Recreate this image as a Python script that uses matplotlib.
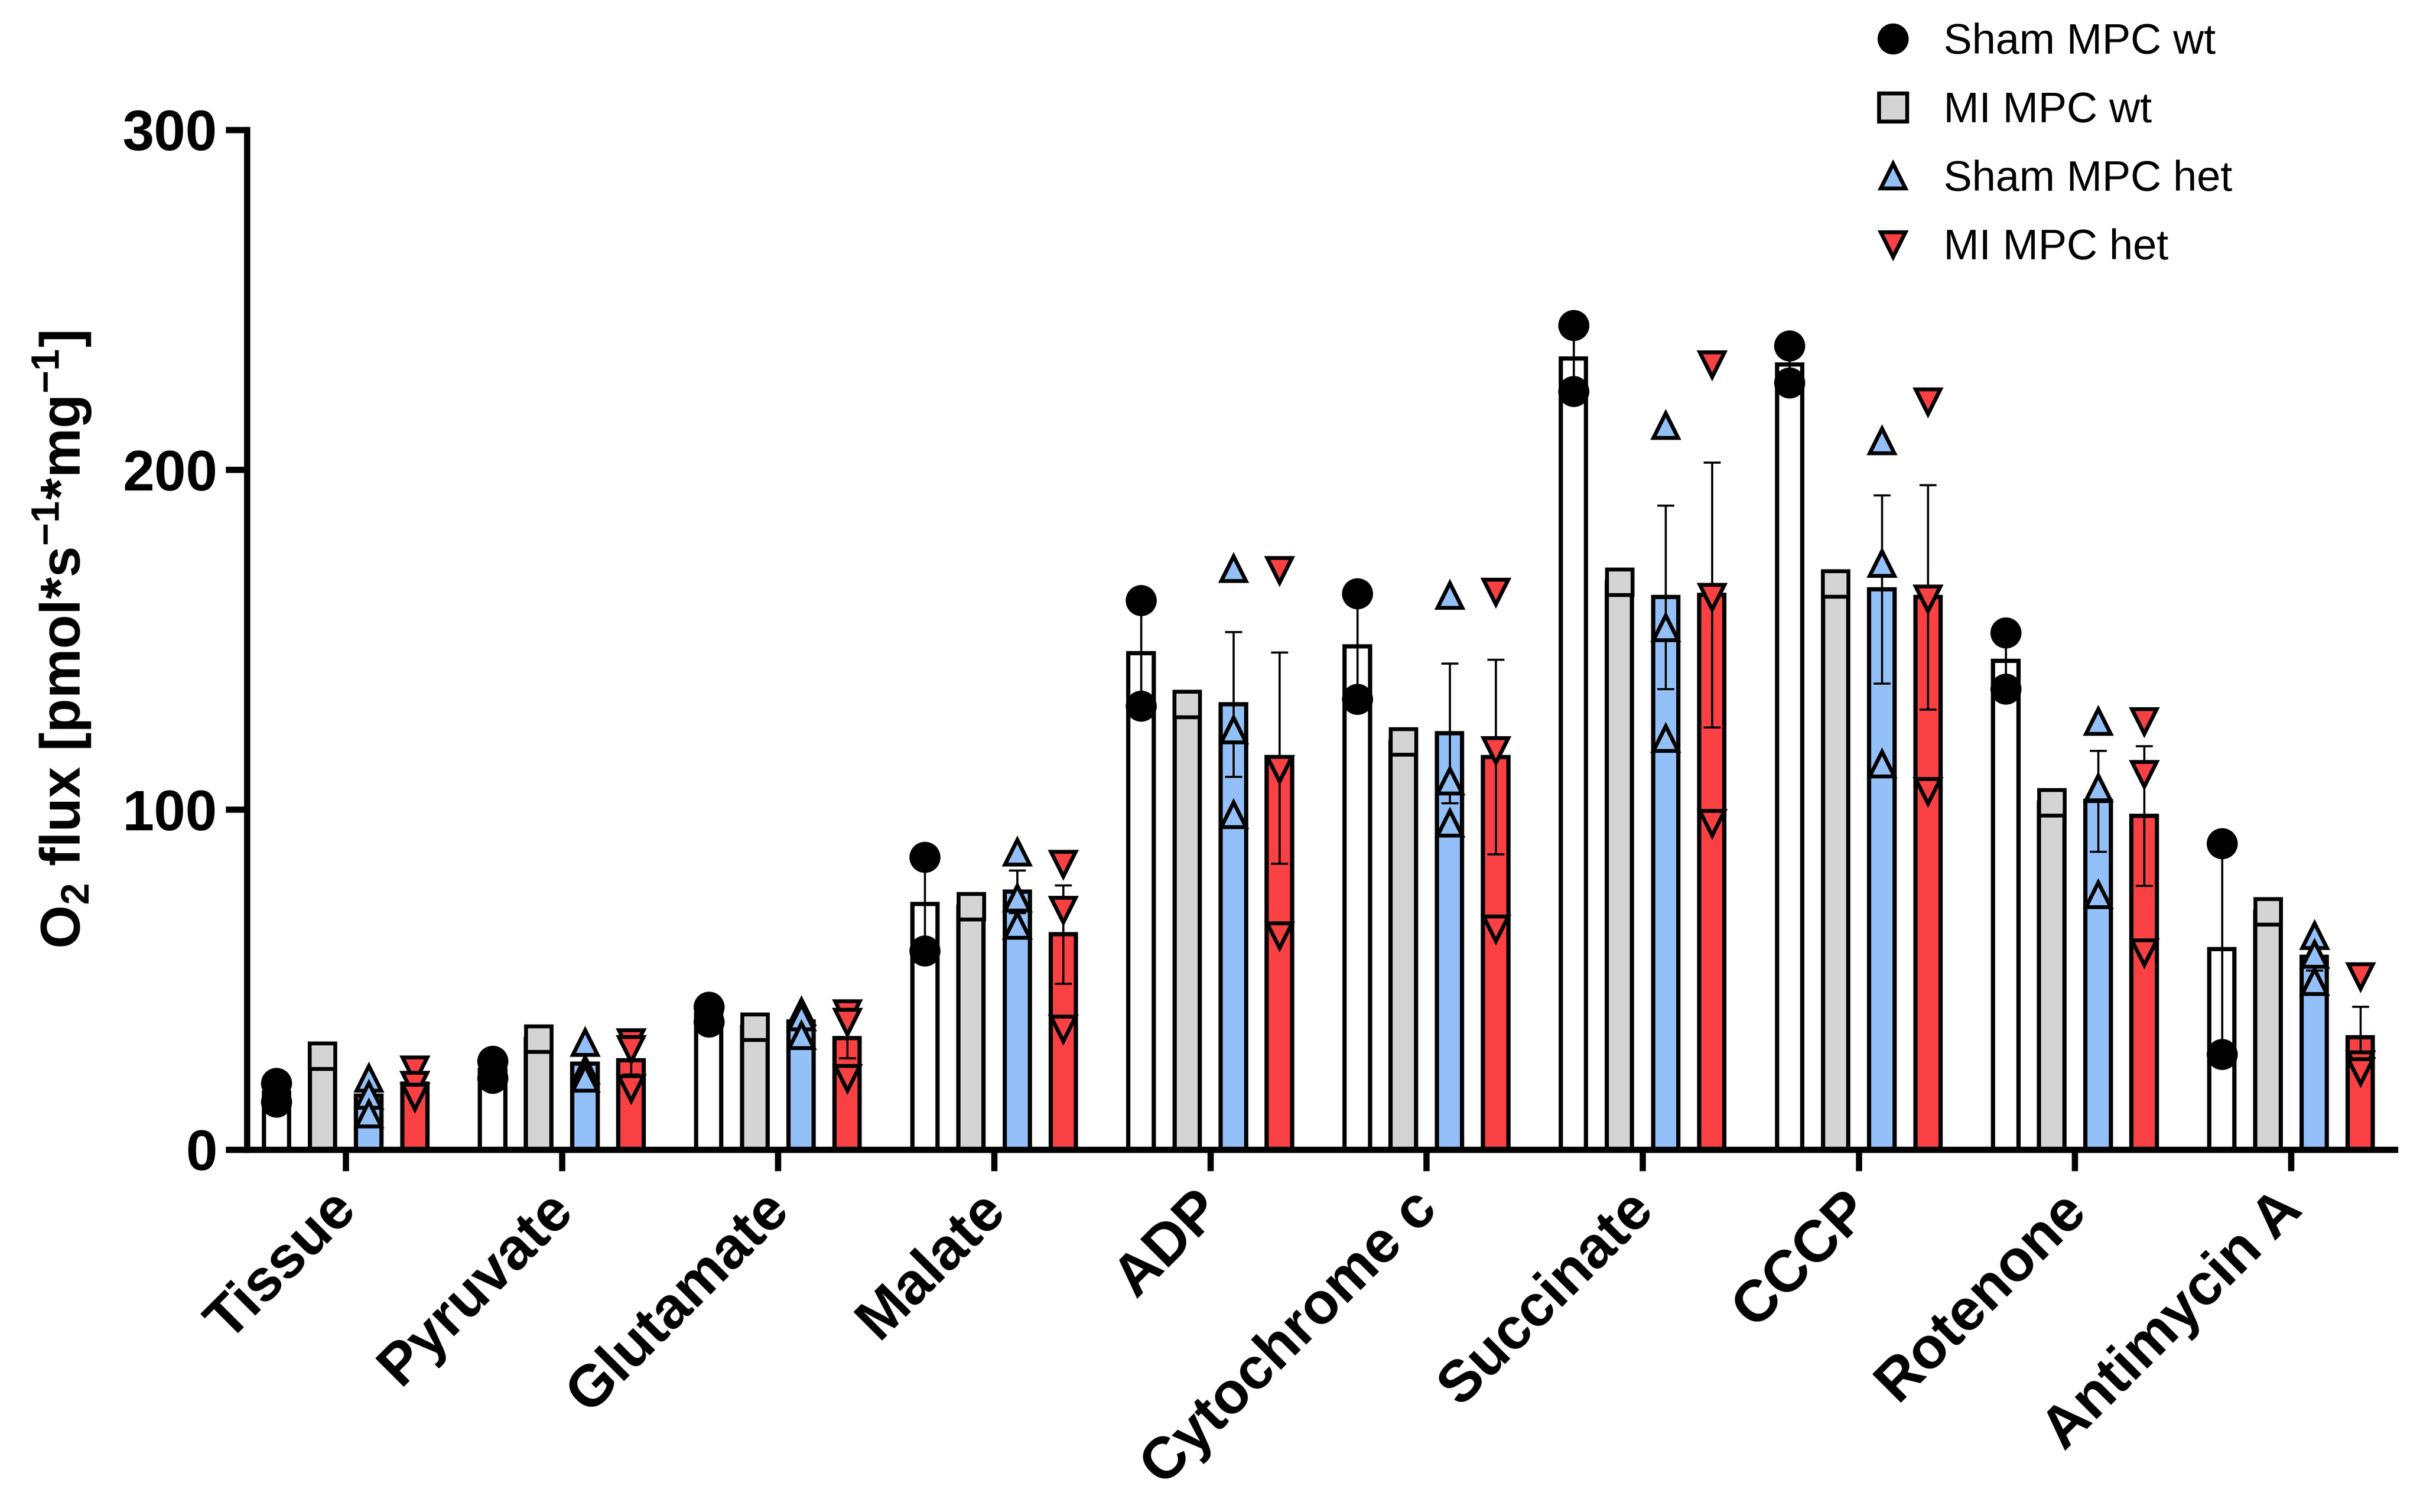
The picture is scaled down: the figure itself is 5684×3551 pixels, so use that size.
import numpy as np
import matplotlib
matplotlib.use('Agg')
import matplotlib.pyplot as plt
import matplotlib.transforms as mtransforms
from matplotlib.lines import Line2D

plt.rcParams['font.family'] = ['Liberation Sans', 'DejaVu Sans']
plt.rcParams['mathtext.fontset'] = 'custom'
plt.rcParams['mathtext.rm'] = 'Liberation Sans:bold'
plt.rcParams['mathtext.it'] = 'Liberation Sans:bold'
plt.rcParams['mathtext.bf'] = 'Liberation Sans:bold'

# substrate / inhibitor steps
steps = ['Tissue', 'Pyruvate', 'Glutamate', 'Malate', 'ADP', 'Cytochrome c',
         'Succinate', 'CCCP', 'Rotenone', 'Antimycin A']

# individual O2 flux values per group
sham_wt = [[19.5, 14], [26, 21], [42, 37.5], [86, 58.5], [161.5, 130.5],
           [163.5, 132.5], [242.5, 223], [236.5, 225.5], [152, 135.5], [90, 28]]
mi_wt = [[27.5], [32.5], [36], [71.5], [131], [120], [167], [166.5], [102], [70]]
sham_het = [[21, 16, 10.5], [31.5, 23.5, 21], [40.5, 39, 33.5], [87.5, 74, 66],
            [171, 123.5, 98.5], [163, 108.5, 96], [213, 153.5, 121],
            [208.5, 172.5, 113.5], [126, 106.5, 75], [63, 57.5, 49.5]]
mi_het = [[23.5, 19, 15.5], [31.5, 29.5, 18], [40, 37.5, 21], [84, 70.5, 35.5],
          [170.5, 112, 63], [164, 117.5, 65], [231, 162.5, 96], [220, 162, 105.5],
          [126, 110.5, 58], [51, 25, 23]]

labels = ['Sham MPC wt', 'MI MPC wt', 'Sham MPC het', 'MI MPC het']

groups = [sham_wt, mi_wt, sham_het, mi_het]
fills = ['white', '#D4D4D4', '#93C0F8', '#F94144']
marks = ['o', 's', '^', 'v']
msizes = [16, 14.5, 14, 14]
mfcs = ['black', '#D4D4D4', '#93C0F8', '#F94144']
offsets = [-0.32, -0.107, 0.107, 0.32]
width = 0.117

fig = plt.figure(figsize=(5684 / 300, 3551 / 300), dpi=300)
ax = fig.add_axes([0.102, 0.2397, 0.8876, 0.6745])

x = np.arange(len(steps))
for g, data in enumerate(groups):
    means = np.array([np.mean(v) for v in data])
    sems = np.array([np.std(v, ddof=1) / np.sqrt(len(v)) if len(v) > 1 else 0.0
                     for v in data])
    xp = x + offsets[g]
    ax.bar(xp, means, width, color=fills[g], edgecolor='black', linewidth=2.4, zorder=2)
    has_err = sems > 0
    if has_err.any():
        ax.errorbar(xp[has_err], means[has_err], yerr=sems[has_err], fmt='none',
                    ecolor='black', elinewidth=1.2, capsize=4.7, capthick=1.2, zorder=3)
    for i, v in enumerate(data):
        ax.plot([xp[i]] * len(v), v, ls='none', marker=marks[g], ms=msizes[g],
                mfc=mfcs[g], mec='black', mew=2.2 if g else 1.5, zorder=4, clip_on=False)

ax.set_xlim(-0.457, 9.48)
ax.set_ylim(0, 300)
ax.set_yticks([0, 100, 200, 300])
ax.set_xticks(x)
ax.set_xticklabels([])
# rotated category labels, nudged left of the ticks like the original
shift = mtransforms.ScaledTranslation(-40 / 300, -75 / 300, fig.dpi_scale_trans)
for xi, name in zip(x, steps):
    ax.text(xi, 0, name, transform=ax.get_xaxis_transform() + shift, rotation=45,
            ha='right', va='top', rotation_mode='anchor', fontsize=33,
            fontweight='bold', clip_on=False)
for lab in ax.get_yticklabels():
    lab.set_fontweight('bold')
    lab.set_fontsize(32)

for s in ['top', 'right']:
    ax.spines[s].set_visible(False)
for s in ['left', 'bottom']:
    ax.spines[s].set_linewidth(3.5)
ax.tick_params(axis='both', direction='out', length=12, width=3.5)
ax.tick_params(axis='y', pad=4.6)

ax.set_ylabel(r'O$_2$ flux [pmol*s$^{-1}$*mg$^{-1}$]', fontsize=31.5, fontweight='bold')
ax.yaxis.set_label_coords(-0.0716, 0.5)

handles = [Line2D([], [], ls='none', marker=marks[g], ms=16 if g < 2 else 14,
                  mfc=mfcs[g], mec='black', mew=2.2 if g else 1.5) for g in range(4)]
fig.legend(handles, labels, loc='upper left', bbox_to_anchor=(0.7734, 0.985),
           frameon=False, fontsize=24, handlelength=1.0, handletextpad=0.69,
           labelspacing=0.67, borderpad=0, borderaxespad=0)

fig.savefig('out.png', dpi=300)
